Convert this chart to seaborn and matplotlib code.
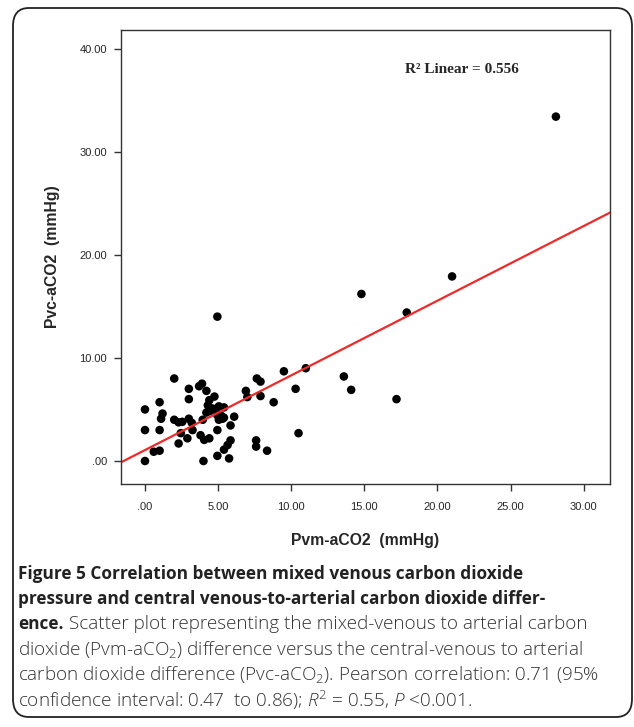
import numpy as np
import pandas as pd
import matplotlib
matplotlib.use("Agg")
import matplotlib.pyplot as plt
import seaborn as sns
from matplotlib.patches import FancyBboxPatch

# values
pvm = [0.0, 0.0, 0.0, 0.6, 1.0, 1.0, 1.0, 1.2, 1.1,
       2.0, 2.0, 2.3, 2.55, 2.3, 2.45, 2.9,
       3.0, 3.0, 3.0, 3.2, 3.25, 3.7, 3.9, 4.2,
       3.8, 4.05, 4.4, 4.0, 3.95, 4.2, 4.45, 4.3, 4.4, 4.75,
       4.95, 4.6, 4.85, 5.05, 5.4, 4.95, 5.2, 5.4, 5.05, 5.3, 6.1, 4.95,
       5.85, 5.85, 5.65, 5.4, 4.95, 5.75,
       6.9, 7.0,
       7.65, 7.9, 7.9, 7.6, 7.6, 8.35, 8.8, 9.5, 10.3, 10.5, 11.0,
       13.6, 14.1, 14.8, 17.2, 17.9, 21.0, 28.1]
pvc = [5.0, 3.0, 0.0, 0.9, 1.0, 3.0, 5.7, 4.6, 4.1,
       8.0, 4.0, 3.75, 3.8, 1.7, 2.7, 2.2,
       7.0, 6.0, 4.1, 3.7, 3.0, 7.25, 7.5, 6.8,
       2.5, 2.05, 2.2, 0.0, 4.0, 4.7, 4.85, 5.4, 5.9, 6.25,
       14.0, 5.1, 5.05, 5.3, 5.2, 4.45, 4.4, 4.2, 4.0, 4.1, 4.3, 3.0,
       3.45, 2.0, 1.55, 1.1, 0.5, 0.25,
       6.8, 6.2,
       8.0, 7.7, 6.3, 2.0, 1.4, 1.0, 5.7, 8.7, 7.0, 2.7, 9.0,
       8.2, 6.9, 16.2, 6.0, 14.4, 17.9, 33.4]

x_ticks = [0, 5, 10, 15, 20, 25, 30]
y_ticks = [0, 10, 20, 30, 40]
r2_label = "R² Linear = 0.556"

caption_bold = ["Figure 5 Correlation between mixed venous carbon dioxide",
                "pressure and central venous-to-arterial carbon dioxide differ-",
                "ence."]
caption_rest = [" Scatter plot representing the mixed-venous to arterial carbon",
                "dioxide (Pvm-aCO$_2$) difference versus the central-venous to arterial",
                "carbon dioxide difference (Pvc-aCO$_2$). Pearson correlation: 0.71 (95%",
                "confidence interval: 0.47  to 0.86); $R^2$ = 0.55, $P$ <0.001."]

df = pd.DataFrame({"Pvm": pvm, "Pvc": pvc})

sns.set_style("white")
plt.rcParams["font.family"] = ["Liberation Sans", "DejaVu Sans"]
plt.rcParams["mathtext.fontset"] = "custom"
plt.rcParams["mathtext.rm"] = "Open Sans:light"
plt.rcParams["mathtext.it"] = "Open Sans:italic:light"
plt.rcParams["mathtext.bf"] = "Open Sans:bold"

W, H = 634, 727
fig = plt.figure(figsize=(W / 100, H / 100), dpi=100)

# rounded frame round the whole figure
frame = FancyBboxPatch((13 / W, 10 / H), 619 / W, 709 / H,
                       boxstyle="round,pad=0,rounding_size=0.025",
                       transform=fig.transFigure, fill=False,
                       edgecolor="#222222", linewidth=1.3)
fig.patches.append(frame)

ax = fig.add_axes([121 / W, 1 - 484 / H, 489 / W, 454 / H])
ax.set_xlim(-1.64, 31.8)
ax.set_ylim(-2.23, 41.8)

sns.regplot(data=df, x="Pvm", y="Pvc", ax=ax, ci=None, truncate=False,
            scatter_kws=dict(s=38, color="black", edgecolor="none", alpha=1),
            line_kws=dict(color="#ee2a2a", linewidth=1.6))

ax.set_xlim(-1.64, 31.8)
ax.set_ylim(-2.23, 41.8)
ax.set_xticks(x_ticks)
ax.set_yticks(y_ticks)
fmt = lambda v: ".00" if v == 0 else f"{v:.2f}"
ax.set_xticklabels([fmt(v) for v in x_ticks])
ax.set_yticklabels([fmt(v) for v in y_ticks])
ax.tick_params(axis="both", direction="out", length=5, width=1,
               color="#333333", labelsize=8, bottom=True, left=True)
ax.tick_params(axis="x", pad=8)
ax.tick_params(axis="y", pad=5)
for s in ax.spines.values():
    s.set_color("#333333")
    s.set_linewidth(1.0)

ax.set_xlabel("Pvm-aCO2  (mmHg)", fontsize=11.3, fontweight="bold", labelpad=15)
ax.set_ylabel("Pvc-aCO2  (mmHg)", fontsize=11.3, fontweight="bold", labelpad=14)

ax.text(0.58, 0.912, r2_label, transform=ax.transAxes, fontsize=11,
        fontweight="bold", family="Liberation Serif", va="center", ha="left")

y0 = 574
step = 25.2
x0 = 18 / W
for i, line in enumerate(caption_bold):
    t = fig.text(x0, 1 - (y0 + i * step) / H, line, fontsize=12.4,
                 family="Open Sans", fontweight="bold", color="#222222",
                 va="center", ha="left")

# rest of line 3 follows the bold run-in head
renderer = fig.canvas.get_renderer()
bb = t.get_window_extent(renderer=renderer)
x_after = bb.x1 / (W)
for i, line in enumerate(caption_rest):
    xs = x_after if i == 0 else x0
    fig.text(xs, 1 - (y0 + (i + 2) * step) / H, line, fontsize=13.6,
             family="Open Sans", fontweight="light", color="#333333",
             va="center", ha="left")

fig.savefig("out.png", dpi=100)
